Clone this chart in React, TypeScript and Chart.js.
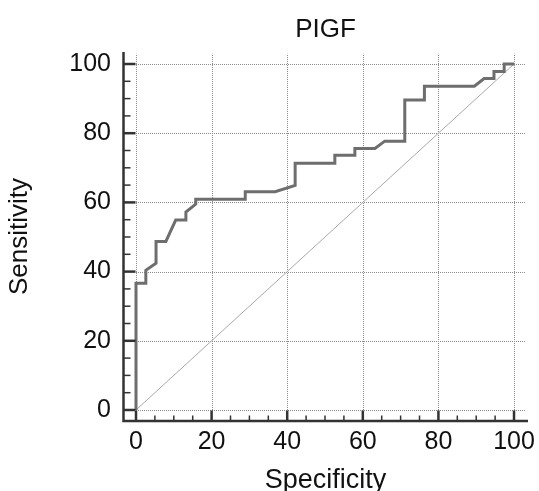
import React, { useEffect, useRef } from "react";
import { Chart, registerables } from "chart.js";

Chart.register(...registerables);

// ---- Data ----
const TITLE = "PIGF";
const X_TITLE = "Specificity";
const Y_TITLE = "Sensitivity";

// ROC curve vertices: specificity (x) and sensitivity (y), in %
const SPECIFICITY = [
  0, 0, 2.6, 2.6, 5.3, 5.3, 7.9, 10.5, 13.2, 13.2, 15.8, 15.8, 28.9, 28.9, 36.8,
  42.1, 42.1, 52.6, 52.6, 57.9, 57.9, 63.2, 65.8, 71.1, 71.1, 76.3, 76.3, 89.5,
  92.1, 94.7, 94.7, 97.4, 97.4, 100,
];
const SENSITIVITY = [
  0, 36.6, 36.6, 40.4, 42.4, 48.7, 48.7, 54.9, 54.9, 57.2, 59.5, 60.9, 60.9, 63.1,
  63.1, 64.9, 71.3, 71.3, 73.6, 73.6, 75.6, 75.6, 77.7, 77.7, 89.6, 89.6, 93.6,
  93.6, 95.8, 95.8, 97.8, 97.8, 100, 100,
];

// Reference (chance) line
const DIAG_X = [0, 100];
const DIAG_Y = [0, 100];

// Tick labels
const MAJOR_TICKS = [0, 20, 40, 60, 80, 100];
const MINOR_STEP = 5;

// ---- Styles ----
const FONT = "'Liberation Sans', Arial, sans-serif";
const TEXT_COLOR = "#111111";
const AXIS_COLOR = "#333333";
const GRID_COLOR = "#8a8a8a";
const CURVE_COLOR = "#6e6e6e";
const DIAG_COLOR = "#a8a8a8";

// Axis ranges (spines are offset outside the 0..100 data square)
const X_MIN = -3.44;
const X_MAX = 103.7;
const Y_MIN = -3.18;
const Y_MAX = 103.47;
const GRID_END = 103;

export default function App() {
  const ref = useRef<HTMLCanvasElement>(null);

  useEffect(() => {
    const canvas = ref.current;
    if (!canvas) return;

    const axesPlugin = {
      id: "rocAxes",
      beforeDatasetsDraw(chart: any) {
        const { ctx } = chart;
        const xs = chart.scales.x;
        const ys = chart.scales.y;
        ctx.save();
        ctx.strokeStyle = GRID_COLOR;
        ctx.lineWidth = 1;
        ctx.setLineDash([1, 1]);
        for (const v of MAJOR_TICKS) {
          const px = Math.round(xs.getPixelForValue(v)) + 0.5;
          ctx.beginPath();
          ctx.moveTo(px, ys.getPixelForValue(0));
          ctx.lineTo(px, ys.getPixelForValue(GRID_END));
          ctx.stroke();
          const py = Math.round(ys.getPixelForValue(v)) + 0.5;
          ctx.beginPath();
          ctx.moveTo(xs.getPixelForValue(0), py);
          ctx.lineTo(xs.getPixelForValue(GRID_END), py);
          ctx.stroke();
        }
        ctx.restore();
      },
      afterDatasetsDraw(chart: any) {
        const { ctx, chartArea } = chart;
        const xs = chart.scales.x;
        const ys = chart.scales.y;
        const left = chartArea.left;
        const bottom = chartArea.bottom;
        ctx.save();
        ctx.setLineDash([]);
        ctx.strokeStyle = AXIS_COLOR;
        // minor + major ticks
        for (let v = 0; v <= 100; v += MINOR_STEP) {
          const major = MAJOR_TICKS.includes(v);
          ctx.lineWidth = major ? 2.5 : 1.5;
          const py = ys.getPixelForValue(v);
          ctx.beginPath();
          ctx.moveTo(left, py);
          ctx.lineTo(left + (major ? 12.5 : 7.5), py);
          ctx.stroke();
          const px = xs.getPixelForValue(v);
          ctx.beginPath();
          ctx.moveTo(px, bottom);
          ctx.lineTo(px, bottom - (major ? 10.5 : 5.5));
          ctx.stroke();
        }
        // spines
        ctx.lineWidth = 2.5;
        ctx.beginPath();
        ctx.moveTo(left + 0.5, chartArea.top);
        ctx.lineTo(left + 0.5, bottom);
        ctx.lineTo(chartArea.right, bottom);
        ctx.stroke();
        ctx.restore();
      },
    };

    const curve = SPECIFICITY.map((x, i) => ({ x, y: SENSITIVITY[i] }));
    const diag = DIAG_X.map((x, i) => ({ x, y: DIAG_Y[i] }));

    const chart = new Chart(canvas, {
      type: "scatter",
      data: {
        datasets: [
          {
            data: diag,
            showLine: true,
            borderColor: DIAG_COLOR,
            borderWidth: 1,
            pointRadius: 0,
            order: 2,
          },
          {
            data: curve,
            showLine: true,
            borderColor: CURVE_COLOR,
            borderWidth: 3,
            pointRadius: 0,
            tension: 0,
            borderJoinStyle: "miter",
            order: 1,
          },
        ],
      },
      options: {
        responsive: false,
        animation: false,
        events: [],
        layout: { padding: { left: 0, right: 11, top: 0, bottom: 0 } },
        plugins: {
          legend: { display: false },
          tooltip: { enabled: false },
          title: {
            display: true,
            text: TITLE,
            fullSize: false,
            color: TEXT_COLOR,
            font: { family: FONT, size: 26, weight: "normal", lineHeight: 1.2 },
            padding: { top: 14, bottom: 6.8 },
          },
        },
        scales: {
          x: {
            type: "linear",
            min: X_MIN,
            max: X_MAX,
            grid: { display: false, drawTicks: false },
            border: { display: false },
            afterBuildTicks: (scale: any) => {
              scale.ticks = MAJOR_TICKS.map((v) => ({ value: v }));
            },
            afterFit: (scale: any) => {
              scale.height = 70;
              scale.paddingLeft = 0;
              scale.paddingRight = 0;
            },
            ticks: {
              color: TEXT_COLOR,
              font: { family: FONT, size: 25 },
              padding: 6,
              maxRotation: 0,
              autoSkip: false,
            },
            title: {
              display: true,
              text: X_TITLE,
              color: TEXT_COLOR,
              font: { family: FONT, size: 27, lineHeight: 1 },
              padding: { top: 0, bottom: -3.5 },
            },
          },
          y: {
            type: "linear",
            min: Y_MIN,
            max: Y_MAX,
            grid: { display: false, drawTicks: false },
            border: { display: false },
            afterBuildTicks: (scale: any) => {
              scale.ticks = MAJOR_TICKS.map((v) => ({ value: v }));
            },
            afterFit: (scale: any) => {
              scale.width = 123;
              scale.paddingTop = 0;
              scale.paddingBottom = 0;
            },
            ticks: {
              color: TEXT_COLOR,
              font: { family: FONT, size: 25 },
              padding: 12,
              autoSkip: false,
            },
            title: {
              display: true,
              text: Y_TITLE,
              color: TEXT_COLOR,
              font: { family: FONT, size: 26, lineHeight: 1 },
              padding: { top: 6.6, bottom: 0 },
            },
          },
        },
      },
      plugins: [axesPlugin],
    } as any);

    return () => chart.destroy();
  }, []);

  return (
    <div
      style={{
        position: "fixed",
        left: 0,
        top: 0,
        width: 539,
        height: 491,
        background: "#ffffff",
      }}
    >
      <canvas ref={ref} width={539} height={491} style={{ display: "block" }} />
    </div>
  );
}
